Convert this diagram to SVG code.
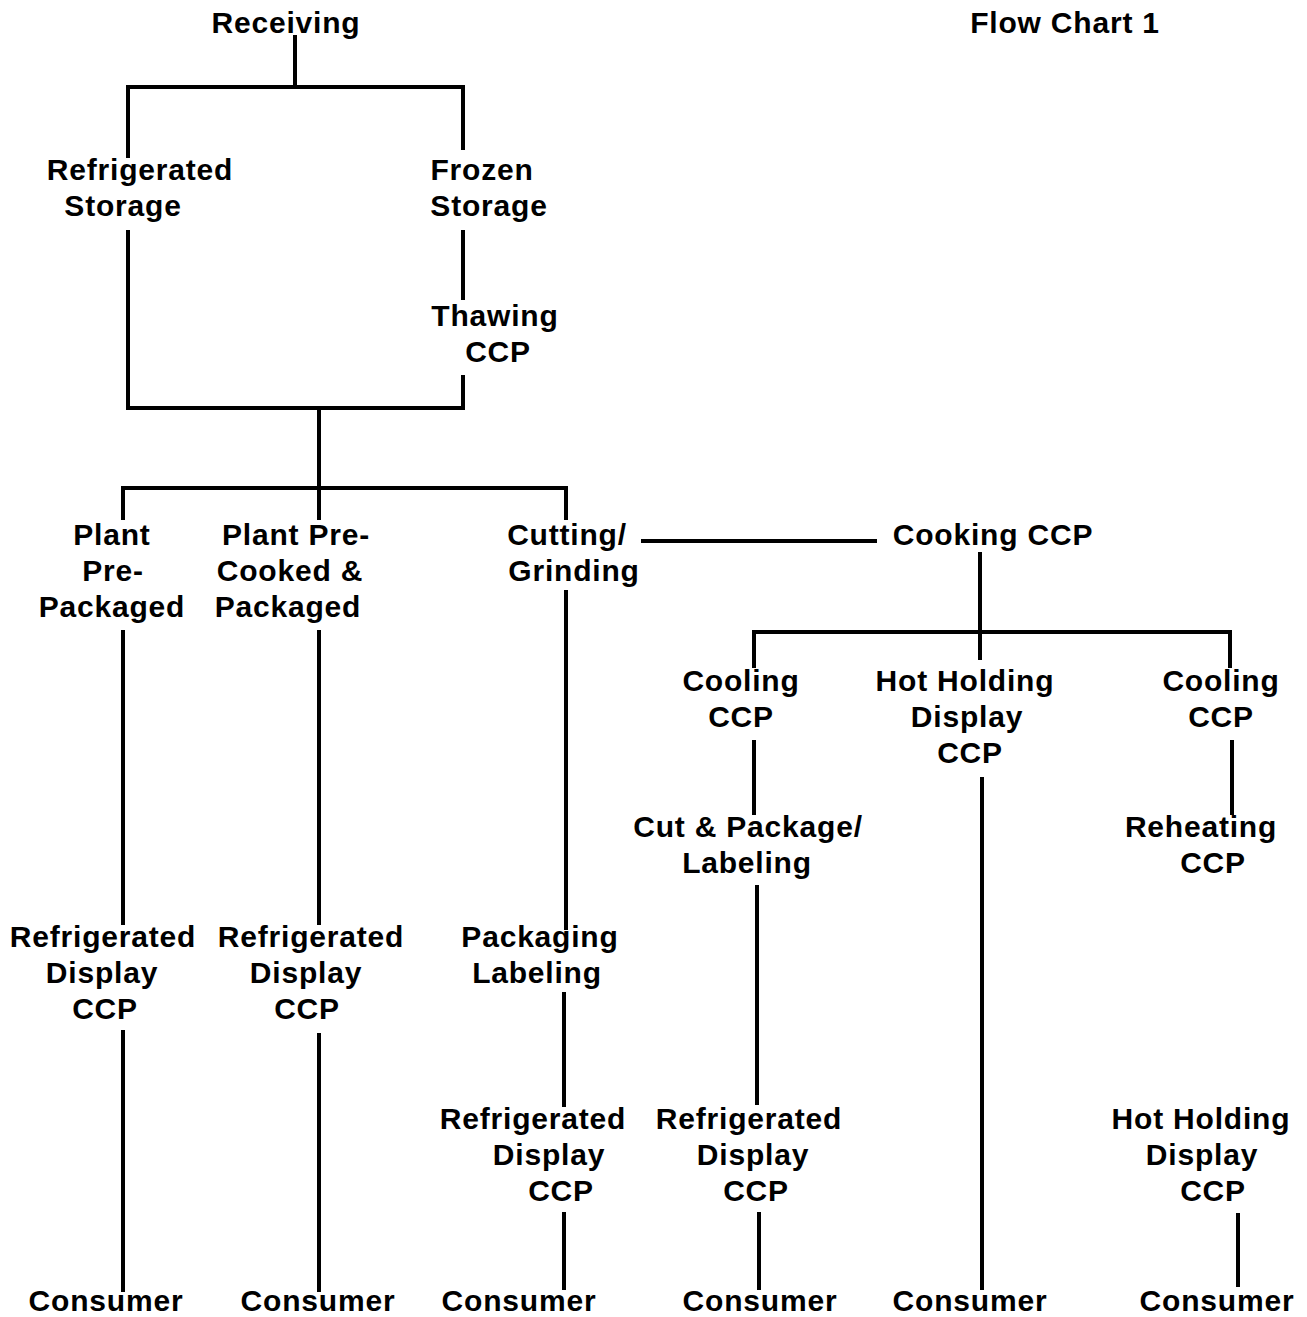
<svg xmlns="http://www.w3.org/2000/svg" width="1307" height="1317" viewBox="0 0 1307 1317">
<style>
.c{fill:none;stroke:#000;stroke-width:4;stroke-linecap:butt}
text{font-family:"Liberation Sans",Arial,sans-serif;font-weight:bold;font-size:30px;letter-spacing:0.8px;fill:#000;text-anchor:middle}
</style>
<rect width="1307" height="1317" fill="#fff"/>
<g id="connectors" class="c">
<path d="M295 35V87"/>
<path d="M128 158V87H463V150"/>
<path d="M128 230V408H463V375"/>
<path d="M463 230V300"/>
<path d="M319 408V488"/>
<path d="M123 520V488H566V520"/>
<path d="M319 488V520"/>
<path d="M641 541H877"/>
<path d="M123 630V925"/>
<path d="M319 630V925"/>
<path d="M566 590V930"/>
<path d="M980 552V660"/>
<path d="M754 668V632H1230V668"/>
<path d="M754 740V815"/>
<path d="M1232 740V815"/>
<path d="M982 777V1290"/>
<path d="M757 885V1105"/>
<path d="M123 1030V1292"/>
<path d="M319 1033V1292"/>
<path d="M564 992V1107"/>
<path d="M564 1212V1290"/>
<path d="M759 1212V1290"/>
<path d="M1238 1213V1287"/>
</g>
<g id="title"><text x="1065" y="33">Flow Chart 1</text></g>
<g id="receiving"><text x="286" y="33">Receiving</text></g>
<g id="refrigerated-storage"><text x="140" y="180">Refrigerated</text><text x="123" y="216">Storage</text></g>
<g id="frozen-storage"><text x="482" y="180">Frozen</text><text x="489" y="216">Storage</text></g>
<g id="thawing"><text x="495" y="326">Thawing</text><text x="498" y="362">CCP</text></g>
<g id="plant-prepackaged"><text x="112" y="545">Plant</text><text x="113" y="581">Pre-</text><text x="112" y="617">Packaged</text></g>
<g id="plant-precooked"><text x="296" y="545">Plant Pre-</text><text x="290" y="581">Cooked &amp;</text><text x="288" y="617">Packaged</text></g>
<g id="cutting"><text x="567" y="545">Cutting/</text><text x="574" y="581">Grinding</text></g>
<g id="cooking"><text x="993" y="545">Cooking CCP</text></g>
<g id="cooling1"><text x="741" y="691">Cooling</text><text x="741" y="727">CCP</text></g>
<g id="hot-holding1"><text x="965" y="691">Hot Holding</text><text x="967" y="727">Display</text><text x="970" y="763">CCP</text></g>
<g id="cooling2"><text x="1221" y="691">Cooling</text><text x="1221" y="727">CCP</text></g>
<g id="cut-package"><text x="748" y="837">Cut &amp; Package/</text><text x="747" y="873">Labeling</text></g>
<g id="reheating"><text x="1201" y="837">Reheating</text><text x="1213" y="873">CCP</text></g>
<g id="refdisplay1"><text x="103" y="947">Refrigerated</text><text x="102" y="983">Display</text><text x="105" y="1019">CCP</text></g>
<g id="refdisplay2"><text x="311" y="947">Refrigerated</text><text x="306" y="983">Display</text><text x="307" y="1019">CCP</text></g>
<g id="packaging"><text x="540" y="947">Packaging</text><text x="537" y="983">Labeling</text></g>
<g id="refdisplay3"><text x="533" y="1129">Refrigerated</text><text x="549" y="1165">Display</text><text x="561" y="1201">CCP</text></g>
<g id="refdisplay4"><text x="749" y="1129">Refrigerated</text><text x="753" y="1165">Display</text><text x="756" y="1201">CCP</text></g>
<g id="hot-holding2"><text x="1201" y="1129">Hot Holding</text><text x="1202" y="1165">Display</text><text x="1213" y="1201">CCP</text></g>
<g id="consumer1"><text x="106" y="1311">Consumer</text></g>
<g id="consumer2"><text x="318" y="1311">Consumer</text></g>
<g id="consumer3"><text x="519" y="1311">Consumer</text></g>
<g id="consumer4"><text x="760" y="1311">Consumer</text></g>
<g id="consumer5"><text x="970" y="1311">Consumer</text></g>
<g id="consumer6"><text x="1217" y="1311">Consumer</text></g>
</svg>
